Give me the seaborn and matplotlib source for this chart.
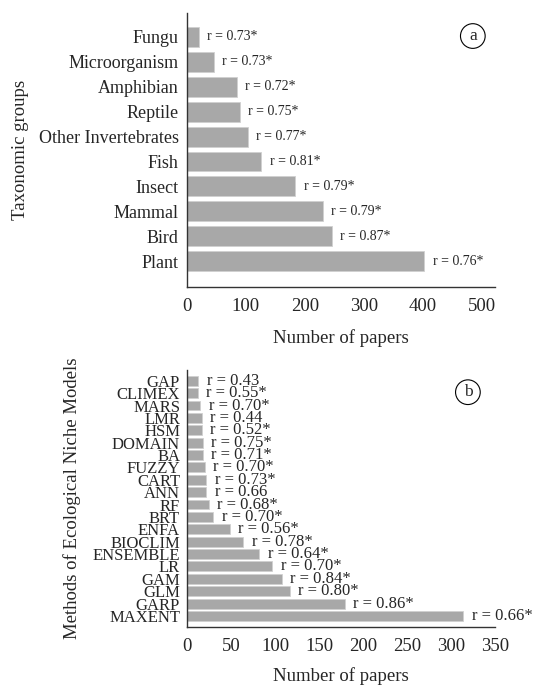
import numpy as np
import pandas as pd
import seaborn as sns
import matplotlib.pyplot as plt

# Panel (a) data
taxa = ['Fungu', 'Microorganism', 'Amphibian', 'Reptile', 'Other Invertebrates',
        'Fish', 'Insect', 'Mammal', 'Bird', 'Plant']
taxa_papers = [20, 45, 85, 90, 103, 126, 184, 231, 246, 403]
taxa_r = ['r = 0.73*', 'r = 0.73*', 'r = 0.72*', 'r = 0.75*', 'r = 0.77*',
          'r = 0.81*', 'r = 0.79*', 'r = 0.79*', 'r = 0.87*', 'r = 0.76*']

# Panel (b) data
methods = ['GAP', 'CLIMEX', 'MARS', 'LMR', 'HSM', 'DOMAIN', 'BA', 'FUZZY', 'CART', 'ANN',
           'RF', 'BRT', 'ENFA', 'BIOCLIM', 'ENSEMBLE', 'LR', 'GAM', 'GLM', 'GARP', 'MAXENT']
method_papers = [13, 12, 15, 17, 17, 18, 18, 20, 22, 22,
                 25, 30, 49, 64, 82, 97, 108, 117, 179, 314]
method_r = ['r = 0.43', 'r = 0.55*', 'r = 0.70*', 'r = 0.44', 'r = 0.52*', 'r = 0.75*',
            'r = 0.71*', 'r = 0.70*', 'r = 0.73*', 'r = 0.66', 'r = 0.68*', 'r = 0.70*',
            'r = 0.56*', 'r = 0.78*', 'r = 0.64*', 'r = 0.70*', 'r = 0.84*', 'r = 0.80*',
            'r = 0.86*', 'r = 0.66*']

sns.set_style('white')
plt.rcParams['font.family'] = ['Liberation Serif', 'DejaVu Serif']

fig = plt.figure(figsize=(5.43, 6.85), dpi=100)
ax1 = fig.add_axes([0.3444, 0.581, 0.5672, 0.400])
ax2 = fig.add_axes([0.3444, 0.0847, 0.5672, 0.375])

bar_color = '#a8a8a8'

df_a = pd.DataFrame({'group': taxa, 'papers': taxa_papers})
sns.barplot(data=df_a, x='papers', y='group', color=bar_color, width=0.8,
            edgecolor='#d0d0d0', linewidth=0.6, ax=ax1)
for i, (v, lab) in enumerate(zip(taxa_papers, taxa_r)):
    ax1.annotate(lab, (v, i), xytext=(6, 0), textcoords='offset points',
                 va='center', ha='left', fontsize=10)
ax1.set_xlim(0, 523)
ax1.set_ylim(len(taxa) - 1 + 1.04, -0.96)
ax1.set_xticks([0, 100, 200, 300, 400, 500])
ax1.set_xlabel('Number of papers', fontsize=13.5, labelpad=10)
ax1.set_ylabel('Taxonomic groups', fontsize=13.5, labelpad=7)
ax1.tick_params(axis='y', labelsize=13, length=0, pad=6)
ax1.tick_params(axis='x', labelsize=13.5, length=0, pad=8)
ax1.text(0.928, 0.916, 'a', transform=ax1.transAxes, ha='center', va='center',
         fontsize=12.5, bbox=dict(boxstyle='circle,pad=0.25', fc='white', ec='black', lw=0.8))

df_b = pd.DataFrame({'method': methods, 'papers': method_papers})
sns.barplot(data=df_b, x='papers', y='method', color=bar_color, width=0.8,
            edgecolor='#d0d0d0', linewidth=0.6, ax=ax2)
for i, (v, lab) in enumerate(zip(method_papers, method_r)):
    ax2.annotate(lab, (v, i), xytext=(6, 0), textcoords='offset points',
                 va='center', ha='left', fontsize=12)
ax2.set_xlim(0, 350)
ax2.set_ylim(len(methods) - 1 + 0.89, -0.86)
ax2.set_xticks(np.arange(0, 351, 50))
ax2.set_xlabel('Number of papers', fontsize=13.5, labelpad=9)
ax2.set_ylabel('Methods of Ecological Niche Models', fontsize=13.5, labelpad=8)
ax2.tick_params(axis='y', labelsize=12, length=0, pad=5)
ax2.tick_params(axis='x', labelsize=13.5, length=0, pad=8)
ax2.text(0.912, 0.914, 'b', transform=ax2.transAxes, ha='center', va='center',
         fontsize=12.5, bbox=dict(boxstyle='circle,pad=0.25', fc='white', ec='black', lw=0.8))

for ax in (ax1, ax2):
    sns.despine(ax=ax)
    for s in ('left', 'bottom'):
        ax.spines[s].set_color('#333333')
        ax.spines[s].set_linewidth(1.0)

fig.savefig('out.png', dpi=100, facecolor='white')
